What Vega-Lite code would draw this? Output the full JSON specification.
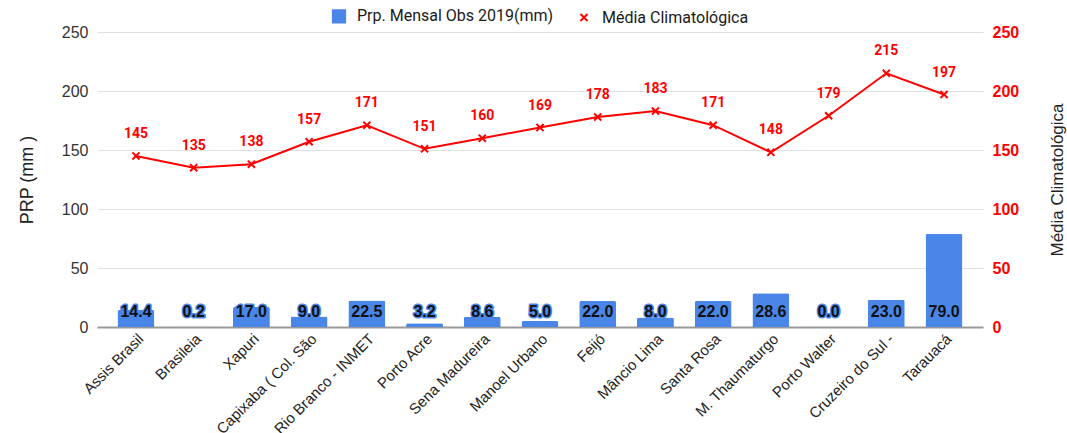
{
  "$schema": "https://vega.github.io/schema/vega-lite/v6.json",
  "width": 886,
  "height": 295,
  "autosize": "none",
  "padding": {"left": 97, "top": 32, "right": 84, "bottom": 106},
  "background": "white",
  "config": {
    "view": {"stroke": null},
    "font": "Liberation Sans",
    "axis": {"labelFont": "Liberation Sans", "titleFont": "Liberation Sans"}
  },
  "data": {
    "values": [
      {"station": "Assis Brasil", "obs": 14.4, "clim": 145},
      {"station": "Brasileia", "obs": 0.2, "clim": 135},
      {"station": "Xapuri", "obs": 17.0, "clim": 138},
      {"station": "Capixaba ( Col. São", "obs": 9.0, "clim": 157},
      {"station": "Rio Branco - INMET", "obs": 22.5, "clim": 171},
      {"station": "Porto Acre", "obs": 3.2, "clim": 151},
      {"station": "Sena Madureira", "obs": 8.6, "clim": 160},
      {"station": "Manoel Urbano", "obs": 5.0, "clim": 169},
      {"station": "Feijó", "obs": 22.0, "clim": 178},
      {"station": "Mâncio Lima", "obs": 8.0, "clim": 183},
      {"station": "Santa Rosa", "obs": 22.0, "clim": 171},
      {"station": "M. Thaumaturgo", "obs": 28.6, "clim": 148},
      {"station": "Porto Walter", "obs": 0.0, "clim": 179},
      {"station": "Cruzeiro do Sul -", "obs": 23.0, "clim": 215},
      {"station": "Tarauacá", "obs": 79.0, "clim": 197}
    ]
  },
  "encoding": {
    "x": {
      "field": "station",
      "type": "nominal",
      "sort": null,
      "scale": {"paddingInner": 0.36, "paddingOuter": 0.355},
      "axis": {
        "title": null,
        "labelAngle": -45,
        "labelFontSize": 15,
        "labelColor": "#222222",
        "labelPadding": 4,
        "labelLimit": 300,
        "ticks": false,
        "domainColor": "#999999",
        "domainWidth": 2,
        "labelOverlap": false
      }
    }
  },
  "layer": [
    {
      "layer": [
        {
          "mark": {"type": "bar", "color": "#4a86e8", "cornerRadiusTopLeft": 2, "cornerRadiusTopRight": 2},
          "encoding": {
            "y": {
              "field": "obs",
              "type": "quantitative",
              "scale": {"domain": [0, 250], "nice": false},
              "axis": {
                "title": "PRP (mm )",
                "titleFontSize": 18,
                "titleFontWeight": "normal",
                "titleColor": "#222222",
                "titlePadding": 25,
                "values": [0, 50, 100, 150, 200, 250],
                "labelFontSize": 16,
                "labelColor": "#333333",
                "labelPadding": 9,
                "ticks": false,
                "domain": false,
                "grid": true,
                "gridColor": "#e0e0e0"
              }
            },
            "color": {
              "datum": "Prp. Mensal Obs 2019(mm)",
              "type": "nominal",
              "scale": {"domain": ["Prp. Mensal Obs 2019(mm)", "Média Climatológica"], "range": ["#4a86e8", "#ff0000"]},
              "legend": {
                "title": null,
                "orient": "none",
                "legendX": 234,
                "legendY": -24,
                "direction": "horizontal",
                "labelFont": "Roboto",
                "labelFontSize": 16,
                "labelLimit": 400,
                "labelColor": "#1a1a1a",
                "labelOffset": 10,
                "columnPadding": 22,
                "symbolSize": 140,
                "encode": {
                  "symbols": {
                    "update": {
                      "shape": {"signal": "datum.value === 'Média Climatológica' ? 'M-1,-1L1,1M1,-1L-1,1' : 'square'"},
                      "fill": {"signal": "datum.value === 'Média Climatológica' ? 'transparent' : '#4a86e8'"},
                      "stroke": {"signal": "datum.value === 'Média Climatológica' ? '#ff0000' : 'transparent'"},
                      "strokeWidth": {"value": 2},
                      "size": {"signal": "datum.value === 'Média Climatológica' ? 50 : 150"}
                    }
                  }
                }
              }
            }
          }
        },
        {
          "mark": {"type": "text", "font": "Liberation Sans", "fontWeight": "bold", "fontSize": 16, "fill": "#4a86e8", "stroke": "#4a86e8", "strokeWidth": 3, "strokeJoin": "round", "dy": -10, "baseline": "alphabetic"},
          "encoding": {
            "y": {"datum": 0, "type": "quantitative"},
            "text": {"field": "obs", "type": "quantitative", "format": ".1f"}
          }
        },
        {
          "mark": {"type": "text", "font": "Liberation Sans", "fontWeight": "bold", "fontSize": 16, "fill": "#111111", "dy": -10, "baseline": "alphabetic"},
          "encoding": {
            "y": {"datum": 0, "type": "quantitative"},
            "text": {"field": "obs", "type": "quantitative", "format": ".1f"}
          }
        }
      ]
    },
    {
      "layer": [
        {
          "mark": {"type": "line", "color": "#ff0000", "strokeWidth": 2},
          "encoding": {
            "y": {
              "field": "clim",
              "type": "quantitative",
              "scale": {"domain": [0, 250], "nice": false},
              "axis": {
                "orient": "right",
                "title": "Média Climatológica",
                "titleAngle": 270,
                "titleFontSize": 17,
                "titleFontWeight": "normal",
                "titleColor": "#222222",
                "titlePadding": 48,
                "values": [0, 50, 100, 150, 200, 250],
                "labelFontSize": 16,
                "labelFontWeight": "bold",
                "labelColor": "#ff0000",
                "labelPadding": 9,
                "ticks": false,
                "domain": false,
                "grid": false
              }
            },
            "color": {"datum": "Média Climatológica", "type": "nominal"}
          }
        },
        {
          "mark": {"type": "point", "shape": "M-1,-1L1,1M1,-1L-1,1", "filled": false, "stroke": "#ff0000", "strokeWidth": 2, "size": 50, "opacity": 1},
          "encoding": {
            "y": {"field": "clim", "type": "quantitative"}
          }
        },
        {
          "mark": {"type": "text", "font": "Roboto", "fontWeight": "bold", "fontSize": 14, "color": "#ff0000", "dy": -22},
          "encoding": {
            "y": {"field": "clim", "type": "quantitative"},
            "text": {"field": "clim", "type": "quantitative"}
          }
        }
      ]
    }
  ],
  "resolve": {"scale": {"y": "independent"}}
}
